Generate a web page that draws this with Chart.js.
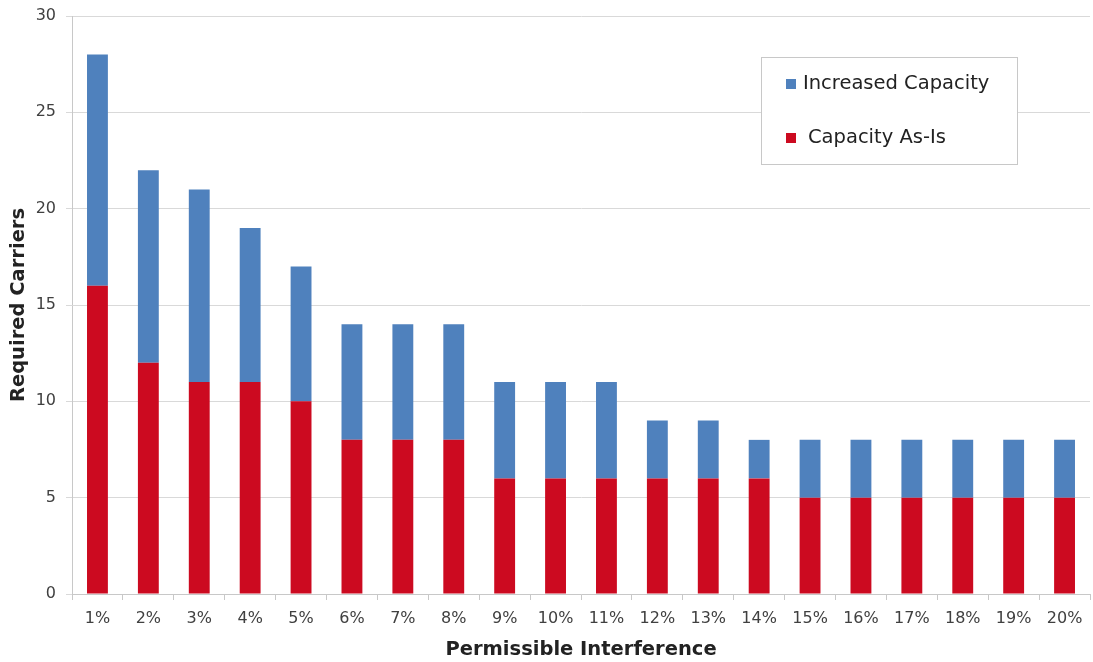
<!DOCTYPE html>
<html>
<head>
<meta charset="utf-8">
<script src="https://cdn.jsdelivr.net/npm/chart.js@4"></script>
<style>
  html, body { margin: 0; padding: 0; background: #fff; }
  #wrap { position: relative; width: 1093px; height: 662px; }
</style>
</head>
<body>
<div id="wrap"><canvas id="chart" width="1093" height="662"></canvas></div>
<script>
// Required carriers by permissible interference
const categories = ['1%', '2%', '3%', '4%', '5%', '6%', '7%', '8%', '9%', '10%',
  '11%', '12%', '13%', '14%', '15%', '16%', '17%', '18%', '19%', '20%'];
const asIsValues = [16, 12, 11, 11, 10, 8, 8, 8, 6, 6, 6, 6, 6, 6, 5, 5, 5, 5, 5, 5];
const increasedTotals = [28, 22, 21, 19, 17, 14, 14, 14, 11, 11, 11, 9, 9, 8, 8, 8, 8, 8, 8, 8];
const increasedValues = increasedTotals.map((t, i) => t - asIsValues[i]);
const yTicks = [0, 5, 10, 15, 20, 25, 30];

const FONT = '"DejaVu Sans", Verdana, sans-serif';
const BLUE = '#4f81bd';
const RED = '#cc0a20';

// legend drawn inside the plot, as in the original
const boxLegend = {
  id: 'boxLegend',
  afterDraw(chart) {
    const ctx = chart.ctx;
    const x = 761, y = 57, w = 256, h = 107;
    ctx.save();
    ctx.fillStyle = '#fff';
    ctx.fillRect(x, y, w, h);
    ctx.strokeStyle = '#c8c8c8';
    ctx.lineWidth = 1;
    ctx.strokeRect(x + 0.5, y + 0.5, w, h);
    const items = [chart.data.datasets[1], chart.data.datasets[0]];
    ctx.font = '19.5px ' + FONT;
    ctx.textBaseline = 'middle';
    items.forEach((ds, i) => {
      const cy = y + 27 + i * 54;
      ctx.fillStyle = ds.backgroundColor;
      ctx.fillRect(x + 25, cy - 5, 10, 10);
      ctx.fillStyle = '#222';
      ctx.fillText(ds.label, x + 42 + (i === 1 ? 5 : 0), cy);
    });
    ctx.restore();
  }
};

new Chart(document.getElementById('chart'), {
  type: 'bar',
  data: {
    labels: categories,
    datasets: [
      { label: 'Capacity As-Is', data: asIsValues, backgroundColor: RED,
        barPercentage: 0.41, categoryPercentage: 1 },
      { label: 'Increased Capacity', data: increasedValues, backgroundColor: BLUE,
        barPercentage: 0.41, categoryPercentage: 1 }
    ]
  },
  options: {
    responsive: false,
    animation: false,
    layout: { padding: { top: 16, right: 3, left: 0, bottom: 0 } },
    plugins: {
      legend: { display: false },
      tooltip: { enabled: false }
    },
    scales: {
      x: {
        stacked: true,
        grid: { display: true, drawOnChartArea: false, drawTicks: true, tickLength: 6, color: '#c8c8c8' },
        border: { color: '#c8c8c8' },
        ticks: { color: '#404040', font: { family: FONT, size: 16 }, padding: 9, maxRotation: 0 },
        title: { display: true, text: 'Permissible Interference', color: '#222',
          font: { family: FONT, size: 19.5, weight: 'bold' }, padding: { top: 8, bottom: 0 } },
        afterFit(scale) { scale.height = 68; }
      },
      y: {
        stacked: true,
        min: 0, max: 30,
        afterBuildTicks(scale) { scale.ticks = yTicks.map(v => ({ value: v })); },
        grid: { color: '#d9d9d9', tickLength: 6 },
        border: { color: '#c8c8c8' },
        ticks: { color: '#404040', font: { family: FONT, size: 16 }, padding: 10 },
        title: { display: true, text: 'Required Carriers', color: '#222',
          font: { family: FONT, size: 19.5, weight: 'bold' }, padding: { top: 7, bottom: 4 } },
        afterFit(scale) {
          scale.width = 72;
          scale.paddingTop = 0;
          scale.paddingBottom = 0;
        }
      }
    }
  },
  plugins: [boxLegend]
});
</script>
</body>
</html>
